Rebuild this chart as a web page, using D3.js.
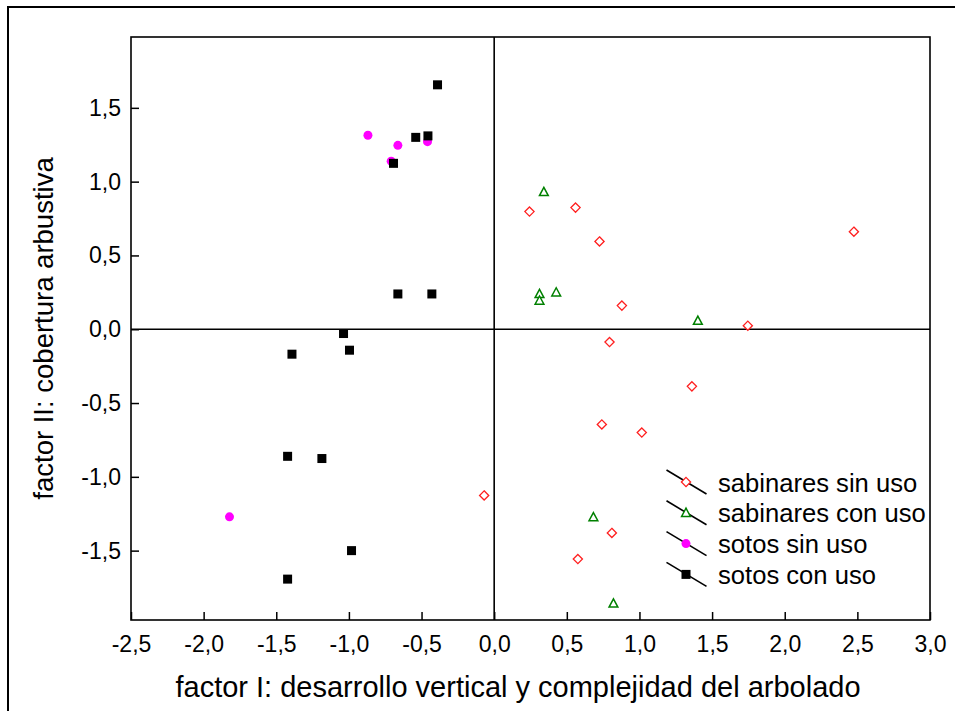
<!DOCTYPE html>
<html>
<head>
<meta charset="utf-8">
<script src="https://cdn.jsdelivr.net/npm/d3@7"></script>
<style>
  html, body { margin: 0; padding: 0; background: #fff; }
  svg { display: block; }
  text { font-family: "Liberation Sans", Arial, sans-serif; fill: #000; }
</style>
</head>
<body>
<svg id="chart" width="955" height="711"></svg>
<script>
// Factor scores per group (factor I, factor II)
const sabinaresSinUsoX = [0.243, 0.560, 0.725, 0.879, 0.794, 2.476, 1.746, 1.361, 0.741, 1.016, 0.810, 0.576, -0.069];
const sabinaresSinUsoY = [0.797, 0.824, 0.595, 0.160, -0.087, 0.661, 0.024, -0.387, -0.645, -0.700, -1.380, -1.557, -1.126];

const sabinaresConUsoX = [0.342, 0.312, 0.312, 0.427, 1.402, 0.683, 0.821];
const sabinaresConUsoY = [0.930, 0.239, 0.194, 0.250, 0.058, -1.273, -1.858];

const sotosSinUsoX = [-0.869, -0.663, -0.459, -0.709, -1.822];
const sotosSinUsoY = [1.314, 1.246, 1.271, 1.139, -1.271];

const sotosConUsoX = [-0.390, -0.540, -0.456, -0.693, -0.663, -0.429, -1.037, -0.996, -1.392, -1.422, -1.186, -0.982, -1.422];
const sotosConUsoY = [1.656, 1.300, 1.310, 1.124, 0.239, 0.239, -0.029, -0.142, -0.169, -0.861, -0.876, -1.500, -1.693];

const xTicks = [-2.5, -2.0, -1.5, -1.0, -0.5, 0.0, 0.5, 1.0, 1.5, 2.0, 2.5, 3.0];
const yTicks = [-1.5, -1.0, -0.5, 0.0, 0.5, 1.0, 1.5];

const legendLabels = ["sabinares sin uso", "sabinares con uso", "sotos sin uso", "sotos con uso"];

// Layout
const plot = { left: 131, top: 37, right: 930, bottom: 620 };
const svg = d3.select("#chart");

const x = d3.scaleLinear().domain([-2.5, 3.0]).range([plot.left, plot.right]);
const y = d3.scaleLinear().domain([-1.97, 1.98]).range([plot.bottom, plot.top]);

const fmt = d => d.toFixed(1).replace(".", ",").replace("\u2212", "-");

// Outer page frame
svg.append("rect")
  .attr("x", 8).attr("y", 7)
  .attr("width", 1200).attr("height", 1200)
  .attr("fill", "none").attr("stroke", "#000").attr("stroke-width", 2);

// Axes with inward ticks
const xAxis = d3.axisBottom(x).tickValues(xTicks).tickFormat(fmt)
  .tickSizeInner(-8).tickSizeOuter(0).tickPadding(16);
const yAxis = d3.axisLeft(y).tickValues(yTicks).tickFormat(fmt)
  .tickSizeInner(-8).tickSizeOuter(0).tickPadding(10);

const gx = svg.append("g").attr("transform", `translate(0,${plot.bottom})`).call(xAxis);
const gy = svg.append("g").attr("transform", `translate(${plot.left},0)`).call(yAxis);
[gx, gy].forEach(g => {
  g.select(".domain").remove();
  g.selectAll(".tick line").attr("stroke", "#000").attr("stroke-width", 1.5);
  g.selectAll(".tick text").attr("font-size", 23)
    .attr("font-family", "'Liberation Sans', Arial, sans-serif").attr("fill", "#000");
});

// Plot frame
svg.append("rect")
  .attr("x", plot.left).attr("y", plot.top)
  .attr("width", plot.right - plot.left).attr("height", plot.bottom - plot.top)
  .attr("fill", "none").attr("stroke", "#000").attr("stroke-width", 1.6);

// Zero reference lines
svg.append("line")
  .attr("x1", x(0)).attr("x2", x(0)).attr("y1", plot.top).attr("y2", plot.bottom)
  .attr("stroke", "#000").attr("stroke-width", 1.6);
svg.append("line")
  .attr("x1", plot.left).attr("x2", plot.right).attr("y1", y(0)).attr("y2", y(0))
  .attr("stroke", "#000").attr("stroke-width", 1.6);

// Marker drawing helpers
const markers = {
  diamond: (g) => g.append("path").attr("d", "M0,-4.6L4.6,0L0,4.6L-4.6,0Z")
    .attr("fill", "#fff").attr("stroke", "#ff2020").attr("stroke-width", 1.3),
  triangle: (g) => g.append("path").attr("d", "M0,-4.6L4.4,3.6L-4.4,3.6Z")
    .attr("fill", "#fff").attr("stroke", "#008000").attr("stroke-width", 1.5),
  circle: (g) => g.append("circle").attr("r", 4.5).attr("fill", "#ff00ff"),
  square: (g) => g.append("rect").attr("x", -4.5).attr("y", -4.5)
    .attr("width", 9).attr("height", 9).attr("fill", "#000")
};

const series = [
  { xs: sabinaresSinUsoX, ys: sabinaresSinUsoY, marker: "diamond" },
  { xs: sabinaresConUsoX, ys: sabinaresConUsoY, marker: "triangle" },
  { xs: sotosSinUsoX, ys: sotosSinUsoY, marker: "circle" },
  { xs: sotosConUsoX, ys: sotosConUsoY, marker: "square" }
];

series.forEach(s => {
  const pts = s.xs.map((v, i) => [v, s.ys[i]]);
  svg.append("g").selectAll("g").data(pts).join("g")
    .attr("transform", d => `translate(${x(d[0])},${y(d[1])})`)
    .each(function () { markers[s.marker](d3.select(this)); });
});

// Legend
const legend = svg.append("g").attr("transform", "translate(686,482)");
series.forEach((s, i) => {
  const row = legend.append("g").attr("transform", `translate(0,${i * 30.8})`);
  row.append("line").attr("x1", -19.5).attr("y1", -12).attr("x2", 20.5).attr("y2", 12)
    .attr("stroke", "#000").attr("stroke-width", 1.6);
  markers[s.marker](row);
  row.append("text").attr("x", 32).attr("y", 9.5).attr("font-size", 25.6)
    .text(legendLabels[i]);
});

// Axis titles
svg.append("text")
  .attr("x", 518).attr("y", 697)
  .attr("text-anchor", "middle").attr("font-size", 29)
  .text("factor I: desarrollo vertical y complejidad del arbolado");

svg.append("text")
  .attr("transform", `translate(53,${(plot.top + plot.bottom) / 2}) rotate(-90)`)
  .attr("text-anchor", "middle").attr("font-size", 27.5)
  .text("factor II: cobertura arbustiva");
</script>
</body>
</html>
